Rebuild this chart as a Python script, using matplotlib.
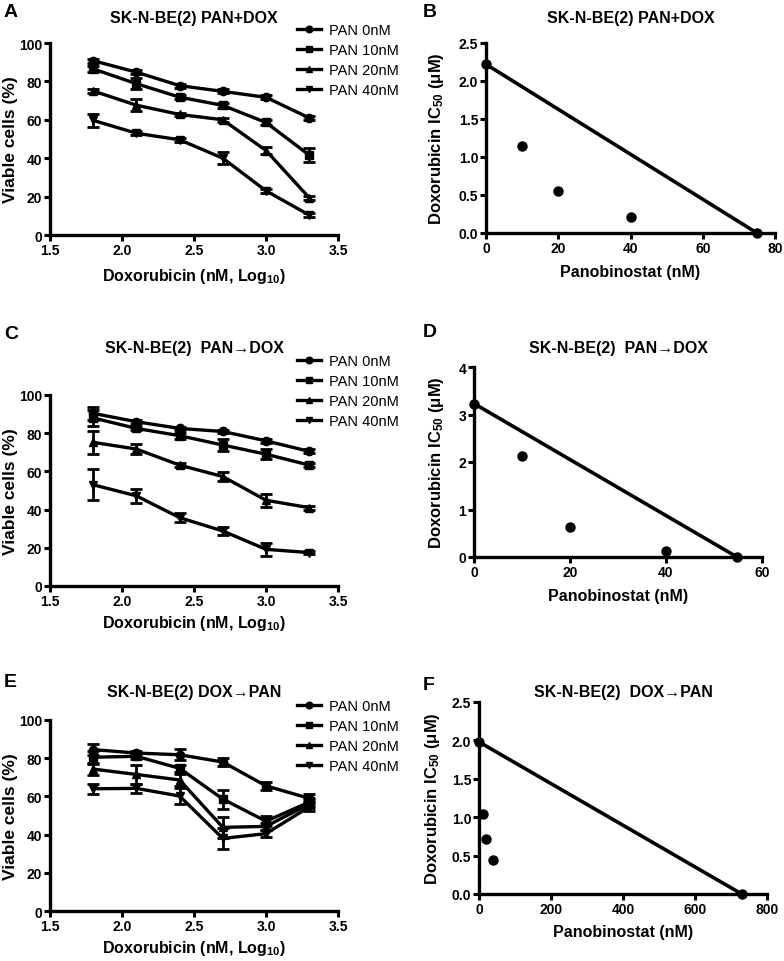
import numpy as np
import matplotlib
matplotlib.use("Agg")
import matplotlib.pyplot as plt

plt.rcParams['font.family'] = ['Liberation Sans', 'DejaVu Sans']
plt.rcParams['font.weight'] = 'bold'
plt.rcParams['axes.labelweight'] = 'bold'
plt.rcParams['mathtext.fontset'] = 'custom'
plt.rcParams['mathtext.rm'] = 'Liberation Sans'
plt.rcParams['mathtext.bf'] = 'Liberation Sans:bold'
plt.rcParams['mathtext.it'] = 'Liberation Sans:italic'

# log10 doxorubicin doses
dox = [1.8, 2.1, 2.4, 2.7, 3.0, 3.3]
series_labels = ["PAN 0nM", "PAN 10nM", "PAN 20nM", "PAN 40nM"]
markers = ["o", "s", "^", "v"]

# panel A: PAN+DOX
a_mean = [
    [90.8, 84.8, 77.8, 74.8, 71.7, 61.0],
    [86.5, 78.8, 71.8, 67.5, 58.6, 41.6],
    [75.0, 67.6, 62.8, 60.0, 44.0, 19.4],
    [59.7, 53.0, 49.6, 40.0, 23.0, 10.4],
]
a_err = [
    [1.0, 1.0, 1.0, 1.0, 1.0, 1.0],
    [1.5, 3.0, 1.0, 1.5, 1.5, 3.5],
    [1.0, 3.0, 1.0, 1.0, 2.0, 1.0],
    [3.5, 1.0, 1.0, 3.0, 1.0, 1.0],
]

# panel C: PAN -> DOX
c_mean = [
    [90.4, 86.0, 82.5, 80.9, 76.0, 70.5],
    [88.0, 82.5, 78.7, 73.8, 69.0, 63.3],
    [75.2, 71.7, 63.3, 57.3, 44.9, 41.0],
    [53.0, 47.2, 35.8, 28.8, 19.2, 17.5],
]
c_err = [
    [3.5, 1.0, 1.0, 1.0, 1.0, 1.0],
    [4.0, 1.0, 1.5, 3.0, 2.5, 1.0],
    [6.0, 2.5, 1.0, 2.5, 3.5, 1.0],
    [8.0, 3.5, 2.5, 2.0, 3.5, 1.0],
]

# panel E: DOX -> PAN
e_mean = [
    [84.5, 82.7, 81.8, 78.0, 65.5, 59.0],
    [80.5, 81.0, 74.7, 58.6, 47.0, 57.0],
    [74.3, 71.5, 68.6, 43.8, 44.3, 56.0],
    [64.0, 64.2, 60.2, 38.0, 40.5, 54.5],
]
e_err = [
    [3.0, 1.0, 3.0, 2.0, 2.0, 2.0],
    [3.5, 1.5, 2.0, 5.0, 2.5, 2.0],
    [3.0, 5.0, 3.0, 5.5, 2.0, 2.0],
    [2.5, 2.5, 4.0, 5.5, 2.0, 2.0],
]

# isobolograms: panobinostat (nM) vs doxorubicin IC50 (uM)
b_pan = [0, 10, 20, 40, 75]
b_ic50 = [2.22, 1.15, 0.55, 0.21, 0.0]
d_pan = [0, 10, 20, 40, 54.8]
d_ic50 = [3.23, 2.12, 0.64, 0.12, 0.0]
f_pan = [0, 10, 20, 40, 730]
f_ic50 = [1.98, 1.04, 0.72, 0.44, 0.0]

W, H = 784, 962
fig = plt.figure(figsize=(W / 100, H / 100), dpi=100)


def px_axes(left, right, top, bottom):
    return fig.add_axes([left / W, 1 - bottom / H, (right - left) / W, (bottom - top) / H])


def style(ax):
    for s in ["top", "right"]:
        ax.spines[s].set_visible(False)
    for s in ["left", "bottom"]:
        ax.spines[s].set_linewidth(2.4)
    ax.tick_params(direction="out", length=4, width=2.2, labelsize=10, pad=1.5)


def place_labels(ax, box, xlab_px, ylab_px):
    # label centres given in pixels, converted to axes fractions
    w = box[1] - box[0]
    h = box[3] - box[2]
    ax.xaxis.label.set_va("center")
    ax.yaxis.label.set_va("center")
    ax.xaxis.set_label_coords(0.5, -(xlab_px - box[3]) / h)
    ax.yaxis.set_label_coords((ylab_px - box[0]) / w, 0.5)


def add_title(box, title, title_y, letter, letter_xy):
    cx = (box[0] + box[1]) / 2 / W
    fig.text(cx, 1 - title_y / H, title, ha="center", va="center", fontsize=11.5, weight="bold")
    fig.text(letter_xy[0] / W, 1 - letter_xy[1] / H, letter, ha="left", va="top",
             fontsize=14, weight="bold")


def dose_panel(box, means, errs, title, title_y, letter, letter_xy, leg_xy, xlab_y):
    ax = px_axes(*box)
    for m, e, mk, lab in zip(means, errs, markers, series_labels):
        ax.errorbar(dox, m, yerr=e, color="black", lw=2.4, marker=mk, ms=6,
                    capsize=4, elinewidth=2.0, capthick=2.0, label=lab, clip_on=False)
    style(ax)
    ax.set_xlim(1.5, 3.5)
    ax.set_ylim(0, 100)
    ax.set_xticks([1.5, 2.0, 2.5, 3.0, 3.5])
    ax.set_xticklabels(["1.5", "2.0", "2.5", "3.0", "3.5"], fontweight="bold", fontsize=10)
    ax.set_yticks([0, 20, 40, 60, 80, 100])
    ax.set_yticklabels(["0", "20", "40", "60", "80", "100"], fontweight="bold", fontsize=10)
    ax.set_xlabel(r"Doxorubicin (nM, Log$_{\mathbf{10}}$)", fontsize=11.5, fontweight="bold")
    ax.set_ylabel("Viable cells (%)", fontsize=12.5, fontweight="bold")
    place_labels(ax, box, xlab_y, 11)
    add_title(box, title, title_y, letter, letter_xy)
    handles, labels = ax.get_legend_handles_labels()
    handles = [h[0] for h in handles]
    ax.legend(handles, labels, loc="upper left",
              bbox_to_anchor=(leg_xy[0] / W, 1 - leg_xy[1] / H),
              bbox_transform=fig.transFigure, frameon=False, borderpad=0,
              borderaxespad=0, handlelength=1.65, handletextpad=0.55,
              labelspacing=0.42, markerscale=0.8,
              prop={"weight": "normal", "size": 10.5})
    return ax


def iso_panel(box, pan, ic50, xlim, xticks, ylim, yticks, yfmt, title, title_y,
              letter, letter_xy, xlab_y, ylab_x):
    ax = px_axes(*box)
    ax.plot([pan[0], pan[-1]], [ic50[0], ic50[-1]], color="black", lw=2.6, clip_on=False)
    ax.plot(pan, ic50, "o", color="black", ms=6.5, clip_on=False, zorder=5)
    style(ax)
    ax.set_xlim(*xlim)
    ax.set_ylim(*ylim)
    ax.set_xticks(xticks)
    ax.set_xticklabels([str(v) for v in xticks], fontweight="bold", fontsize=10)
    ax.set_yticks(yticks)
    ax.set_yticklabels([yfmt.format(v) for v in yticks], fontweight="bold", fontsize=10)
    ax.set_xlabel("Panobinostat (nM)", fontsize=11.5, fontweight="bold")
    ax.set_ylabel(r"Doxorubicin IC$_{\mathbf{50}}$ ($\mathrm{\mu}$M)", fontsize=12,
                  fontweight="bold")
    place_labels(ax, box, xlab_y, ylab_x)
    add_title(box, title, title_y, letter, letter_xy)
    return ax


dose_panel((50, 338, 44, 236), a_mean, a_err, "SK-N-BE(2) PAN+DOX", 18, "A", (4, 4),
           (297, 24), 276)
dose_panel((50, 338, 396, 587), c_mean, c_err, "SK-N-BE(2)  PAN\u2192DOX", 349, "C", (4, 326),
           (297, 355), 624)
dose_panel((50, 338, 721, 912), e_mean, e_err, "SK-N-BE(2) DOX\u2192PAN", 693, "E", (4, 674),
           (297, 700), 948)

iso_panel((486, 775, 44, 234), b_pan, b_ic50, (0, 80), [0, 20, 40, 60, 80],
          (0, 2.5), [0, 0.5, 1.0, 1.5, 2.0, 2.5], "{:.1f}", "SK-N-BE(2) PAN+DOX", 18,
          "B", (423, 4), 273, 436)
iso_panel((474, 762, 368, 558), d_pan, d_ic50, (0, 60), [0, 20, 40, 60],
          (0, 4), [0, 1, 2, 3, 4], "{:.0f}", "SK-N-BE(2)  PAN\u2192DOX", 348,
          "D", (423, 324), 597, 436)
iso_panel((479, 767, 703, 895), f_pan, f_ic50, (0, 800), [0, 200, 400, 600, 800],
          (0, 2.5), [0, 0.5, 1.0, 1.5, 2.0, 2.5], "{:.1f}", "SK-N-BE(2)  DOX\u2192PAN", 692,
          "F", (423, 677), 933, 433)

fig.savefig("out.png", dpi=100)
